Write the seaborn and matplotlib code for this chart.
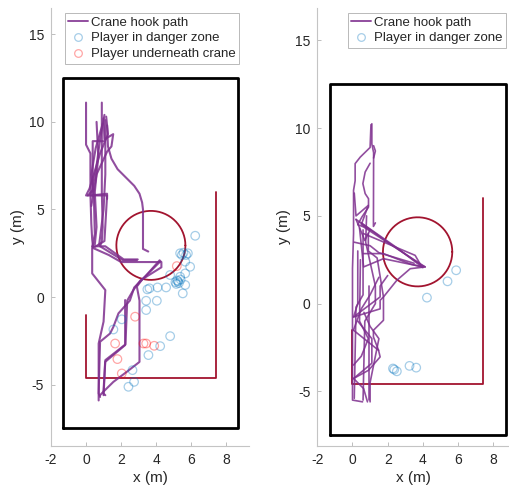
import matplotlib
matplotlib.use("Agg")
import matplotlib.pyplot as plt
from matplotlib.lines import Line2D
import numpy as np
import seaborn as sns

# ---- scene geometry (metres) ----
room_x = [-1.3, 8.7, 8.7, -1.3, -1.3]
room_y = [-7.5, -7.5, 12.5, 12.5, -7.5]
zone_x = [0.0, 0.0, 7.4, 7.4]
zone_y_left = [-1.0, -4.6, -4.6, 6.0]
zone_y_right = [-1.5, -4.6, -4.6, 6.0]
crane_cx, crane_cy, crane_r = 3.7, 2.95, 1.97

# ---- crane hook paths, left panel ----
left_paths = [
    [(0.0, 11.1), (0.0, 8.7), (0.25, 8.2), (0.25, 5.9), (0.3, 4.2), (0.35, 3.3), (0.4, 2.85)],
    [(0.9, 11.1), (0.9, 6.0), (0.95, 4.0), (0.9, 3.2), (0.8, 2.9), (2.1, 2.1), (2.9, 2.1)],
    [(1.15, 10.3), (1.25, 9.3), (0.8, 8.2), (0.2, 6.2), (0.0, 5.8), (1.2, 5.8), (1.05, 3.2),
     (0.4, 2.8), (1.3, 2.4), (2.0, 2.0), (4.3, 2.0), (4.3, 1.7), (3.1, 0.95), (2.7, 0.4),
     (2.35, -0.2), (2.25, -2.7), (1.1, -3.6), (1.0, -5.6)],
    [(1.2, 9.8), (1.25, 8.6), (1.45, 7.9), (1.8, 7.3), (2.3, 6.8), (2.75, 6.35), (3.05, 5.9),
     (3.2, 5.4), (3.25, 5.0), (3.25, 2.75), (3.55, 2.6)],
    [(0.95, 9.9), (0.55, 8.5), (0.3, 7.0), (0.45, 5.6), (0.5, 3.6), (0.35, 2.8), (0.35, 1.35),
     (1.1, 0.4), (1.0, -1.4), (0.72, -2.65), (0.72, -5.9)],
    [(1.0, 10.2), (1.05, 9.0), (1.55, 9.3), (1.45, 8.6), (1.2, 8.3), (0.6, 7.0), (0.3, 5.2)],
    [(4.2, 2.1), (3.4, 1.2), (2.75, 0.55), (2.5, -0.2), (1.85, -0.93), (1.56, -1.7), (1.37, -2.08),
     (0.8, -2.55), (0.72, -5.5), (0.8, -5.7)],
    [(4.25, 2.05), (3.2, 1.0), (2.9, 0.6), (3.05, -0.2), (3.05, -3.7), (2.32, -4.27), (1.56, -4.84),
     (0.99, -5.4), (0.8, -5.6)],
    [(2.23, -0.17), (2.23, -2.74), (1.09, -3.7), (0.99, -5.5), (1.1, -5.6)],
    [(0.35, 2.9), (1.1, 2.9), (2.15, 2.15), (2.95, 2.15)],
    [(0.6, 10.0), (0.7, 8.0), (0.5, 6.0), (0.6, 4.0), (0.5, 3.0)],
    [(1.05, 10.4), (0.8, 9.0), (0.6, 7.5), (0.3, 5.8), (1.2, 5.9), (1.2, 5.6)],
    [(0.99, 8.9), (0.38, 8.9), (0.38, 6.1), (0.1, 5.8)],
    [(1.1, 10.1), (1.1, 7.0), (1.0, 5.0), (0.75, 3.0)],
]

# ---- crane hook paths, right panel ----
right_paths = [
    [(1.1, 10.25), (1.1, 9.1), (1.2, 8.6), (1.19, 4.4), (1.3, 4.6)],
    [(1.05, 10.2), (1.0, 8.9), (0.44, 8.35), (0.15, 7.98), (0.15, 7.0), (0.06, 6.46), (0.06, 4.0),
     (0.0, 2.0), (0.0, -5.5), (0.57, -5.6)],
    [(1.0, 8.0), (0.72, 7.5), (0.59, 6.84), (0.72, 6.27), (0.91, 5.98), (0.91, 5.5), (0.53, 4.93),
     (0.3, 4.5), (0.63, 4.37), (4.13, 2.09), (3.28, 1.99), (2.52, 1.33), (1.76, 0.38), (1.57, 0.19),
     (1.57, -0.3), (0.06, -0.76)],
    [(0.63, 3.99), (3.56, 2.75), (3.94, 2.09), (3.3, 2.25), (1.76, 2.85), (0.63, 2.85)],
    [(0.4, 4.3), (0.63, 2.09), (1.76, 2.56), (3.09, 2.28), (4.0, 2.1)],
    [(0.9, 4.0), (0.9, 3.0), (1.4, 2.6), (1.76, 0.38), (1.76, -0.19), (1.76, -0.95), (1.19, -1.52),
     (1.19, -1.9), (1.48, -2.66), (1.57, -3.04), (0.91, -3.8), (0.06, -4.27), (0.63, -4.84), (0.85, -5.6)],
    [(0.06, -1.52), (1.48, -2.66)],
    [(0.95, 1.0), (0.95, -5.5)],
    [(0.3, 3.0), (0.3, 0.0), (0.06, -0.76), (1.57, 0.38), (1.57, 1.0), (2.0, 1.6)],
    [(0.06, -4.27), (1.1, -3.4), (1.1, -2.0), (0.3, -1.0)],
    [(0.1, 6.3), (0.2, 5.0), (0.9, 5.6), (0.5, 4.5), (1.0, 4.2), (0.7, 3.6), (0.2, 4.8)],
    [(1.2, 9.0), (1.3, 8.7), (1.2, 8.3)],
    [(0.2, 4.8), (2.0, 3.5), (3.9, 2.2), (4.13, 2.09)],
    [(0.5, 4.6), (2.5, 3.2), (4.0, 2.05)],
    [(0.1, 3.5), (1.0, 3.3), (1.5, 2.9), (3.5, 2.3)],
    [(0.45, 2.5), (0.4, -1.0), (0.9, -2.0), (0.5, -3.0), (0.06, -3.5)],
    [(1.5, 1.5), (1.0, 0.5), (0.5, -0.3), (0.06, -1.5)],
    [(0.65, -0.5), (1.0, -1.3), (1.5, -2.0), (1.0, -4.5), (1.0, -5.6)],
    [(0.6, 4.2), (0.6, 0.5), (0.2, -0.2), (0.1, -5.4)],
    [(0.8, 5.0), (0.75, 3.5), (1.3, 1.0), (1.3, 0.0), (0.7, -1.0), (0.6, -5.5)],
]

# ---- players ----
left_danger_x = [6.23, 5.37, 5.56, 5.71, 5.81, 5.47, 5.66, 5.94, 5.66, 5.37, 5.1, 5.2, 5.3, 5.15,
                 5.4, 4.8, 5.66, 5.52, 4.57, 4.08, 3.62, 3.5, 4.04, 3.43, 3.43, 2.04, 1.56, 4.8,
                 4.23, 3.56, 2.65, 2.74, 2.42, 5.25]
left_danger_y = [3.5, 2.5, 2.53, 2.4, 2.5, 2.4, 2.02, 1.73, 1.35, 1.16, 0.85, 0.95, 0.8, 0.75,
                 1.0, 1.26, 0.69, 0.21, 0.55, 0.55, 0.5, 0.44, -0.21, -0.21, -0.74, -1.27, -1.85,
                 -2.23, -2.8, -3.31, -4.17, -4.84, -5.12, 0.9]
left_under_x = [5.18, 2.8, 1.66, 3.28, 3.43, 3.89, 1.79, 2.04]
left_under_y = [1.77, -1.12, -2.65, -2.65, -2.65, -2.78, -3.54, -4.36]
right_danger_x = [5.89, 5.4, 4.23, 2.3, 2.37, 2.52, 3.24, 3.62]
right_danger_y = [1.9, 1.27, 0.34, -3.7, -3.76, -3.86, -3.55, -3.65]

PATH_C = "#7E2F8E"
ZONE_C = "#A2142F"
BLUE_C = "#0072BD"
RED_C = "#FF0000"

sns.set_theme(style="white")
plt.rcParams.update({
    "font.family": ["Liberation Sans", "DejaVu Sans"],
    "axes.unicode_minus": False,
    "figure.facecolor": "white",
})

fig = plt.figure(figsize=(5.1, 4.86), dpi=100)
ax_l = fig.add_axes([51 / 510, 40 / 486, 198 / 510, 438 / 486])
ax_r = fig.add_axes([317.3 / 510, 40.3 / 486, 192.7 / 510, 437.7 / 486])


def draw_panel(ax, paths, zone_y, danger_x, danger_y, under_x=None, under_y=None, lw=1.4):
    ax.plot(room_x, room_y, color="black", lw=2.0, zorder=2)
    ax.plot(zone_x, zone_y, color=ZONE_C, lw=1.3, zorder=2)
    t = np.linspace(0, 2 * np.pi, 200)
    ax.plot(crane_cx + crane_r * np.cos(t), crane_cy + crane_r * np.sin(t),
            color=ZONE_C, lw=1.3, zorder=2)
    for p in paths:
        xs, ys = zip(*p)
        ax.plot(xs, ys, color=PATH_C, lw=lw, alpha=0.85, zorder=3,
                solid_joinstyle="round")
    sns.scatterplot(x=danger_x, y=danger_y, ax=ax, s=38, marker="o",
                    facecolor="none", edgecolor=BLUE_C, linewidth=0.9,
                    alpha=0.35, zorder=4)
    if under_x is not None:
        sns.scatterplot(x=under_x, y=under_y, ax=ax, s=38, marker="o",
                        facecolor="none", edgecolor=RED_C, linewidth=0.9,
                        alpha=0.35, zorder=4)

    ax.set_xticks([-2, 0, 2, 4, 6, 8])
    ax.set_yticks([-5, 0, 5, 10, 15])
    ax.tick_params(direction="in", length=3, width=0.7, color="#bdbdbd",
                   labelsize=10, labelcolor="#262626", pad=5,
                   bottom=True, left=True)
    for s in ["top", "right"]:
        ax.spines[s].set_visible(False)
    for s in ["left", "bottom"]:
        ax.spines[s].set_color("#c4c4c4")
        ax.spines[s].set_linewidth(0.8)
    ax.set_xlabel("x (m)", fontsize=11, color="#262626", labelpad=3)
    ax.set_ylabel("y (m)", fontsize=11, color="#262626", labelpad=3)
    ax.set_facecolor("white")


draw_panel(ax_l, left_paths, zone_y_left, left_danger_x, left_danger_y,
           left_under_x, left_under_y, lw=1.5)
draw_panel(ax_r, right_paths, zone_y_right, right_danger_x, right_danger_y, lw=1.2)

ax_l.set_xlim(-2, 9.3)
ax_l.set_ylim(-8.5, 16.5)
ax_r.set_xlim(-2, 8.95)
ax_r.set_ylim(-8.1, 16.85)

h_path = Line2D([0], [0], color=PATH_C, lw=1.4, alpha=0.85, label="Crane hook path")
h_danger = Line2D([0], [0], ls="none", marker="o", mfc="none", mec=BLUE_C, mew=0.9,
                  ms=5.5, alpha=0.35, label="Player in danger zone")
h_under = Line2D([0], [0], ls="none", marker="o", mfc="none", mec=RED_C, mew=0.9,
                 ms=5.5, alpha=0.35, label="Player underneath crane")

leg_kw = dict(fontsize=9.5, frameon=True, fancybox=False, loc="upper left",
              handlelength=1.5, handletextpad=0.25, labelspacing=0.28,
              borderpad=0.25, borderaxespad=0, bbox_transform=fig.transFigure)
leg_l = ax_l.legend(handles=[h_path, h_danger, h_under],
                    bbox_to_anchor=(65 / 510, 1 - 13 / 486), **leg_kw)
leg_r = ax_r.legend(handles=[h_path, h_danger],
                    bbox_to_anchor=(348 / 510, 1 - 13 / 486), **leg_kw)
for leg in (leg_l, leg_r):
    leg.get_frame().set_edgecolor("#a8a8a8")
    leg.get_frame().set_linewidth(0.7)
    for txt in leg.get_texts():
        txt.set_color("#262626")

fig.savefig("out.png", dpi=100, facecolor="white")
